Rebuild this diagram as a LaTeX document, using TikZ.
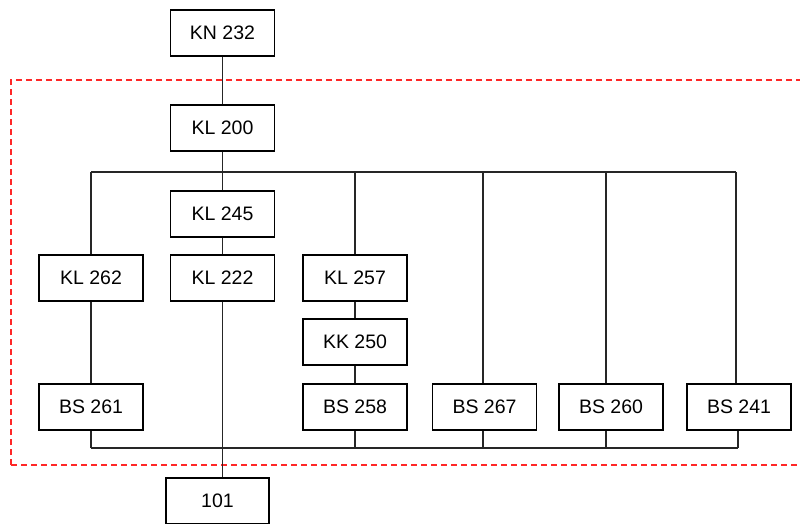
\documentclass[tikz,border=0pt]{standalone}
\usepackage{fontspec}
\setmainfont{Liberation Sans}
\definecolor{dashred}{RGB}{255,40,40}
\begin{document}
\begin{tikzpicture}[x=1pt,y=-1pt,
  box/.style={draw=black,line width=1.1pt,fill=white,minimum width=104pt,minimum height=46pt,inner sep=0pt,font=\fontsize{19.5}{22}\selectfont},
  wire/.style={line width=1.2pt,draw=black!85},
  frame/.style={draw=dashred,line width=1.3pt,dash pattern=on 6pt off 4pt}]
\clip (0,0) rectangle (800,524);
\useasboundingbox (0,0) rectangle (800,524);
\draw[frame] (11,465) -- (11,80) -- (806,80);
\draw[frame] (11,465) -- (806,465);
% bus coordinates
\coordinate (tbL) at (91,172);
\coordinate (tbR) at (736,172);
\coordinate (bbL) at (91,448);
\coordinate (bbR) at (738,448);
\coordinate (t267) at (483,172);
\coordinate (t260) at (606,172);
\coordinate (t241) at (736,172);
\coordinate (b267) at (483,448);
\coordinate (b260) at (606,448);
\coordinate (b241) at (738,448);
% nodes
\node[box] (kn) at (222.5,33) {KN 232};
\node[box] (kl200) at (222.5,128) {KL 200};
\node[box] (kl245) at (222.5,214) {KL 245};
\node[box] (kl262) at (91,278) {KL 262};
\node[box] (kl222) at (222.5,278) {KL 222};
\node[box] (kl257) at (355,278) {KL 257};
\node[box] (kk250) at (355,342) {KK 250};
\node[box] (bs261) at (91,407) {BS 261};
\node[box] (bs258) at (355,407) {BS 258};
\node[box] (bs267) at (484.5,407) {BS 267};
\node[box] (bs260) at (611,407) {BS 260};
\node[box] (bs241) at (739,407) {BS 241};
\node[box,minimum width=103pt] (n101) at (217.5,501) {101};
% connectors
\draw[wire] (kn) -- (kl200);
\draw[wire] (kl200) -- (kl245);
\draw[wire] (kl245) -- (kl222);
\draw[wire] (tbL) -- (tbR);
\draw[wire] (tbL) -- (kl262);
\draw[wire] (kl257.north |- tbL) -- (kl257);
\draw[wire] (t267) -- (t267 |- bs267.north);
\draw[wire] (t260) -- (t260 |- bs260.north);
\draw[wire] (t241) -- (t241 |- bs241.north);
\draw[wire] (kl262) -- (bs261);
\draw[wire] (kl257) -- (kk250);
\draw[wire] (kk250) -- (bs258);
\draw[wire] (bbL) -- (bbR);
\draw[wire] (bs261) -- (bbL);
\draw[wire] (bs258.south) -- (bs258.south |- bbL);
\draw[wire] (b267 |- bs267.south) -- (b267);
\draw[wire] (b260 |- bs260.south) -- (b260);
\draw[wire] (b241 |- bs241.south) -- (b241);
\draw[wire] (kl222.south) -- (kl222.south |- n101.north);
\end{tikzpicture}
\end{document}
